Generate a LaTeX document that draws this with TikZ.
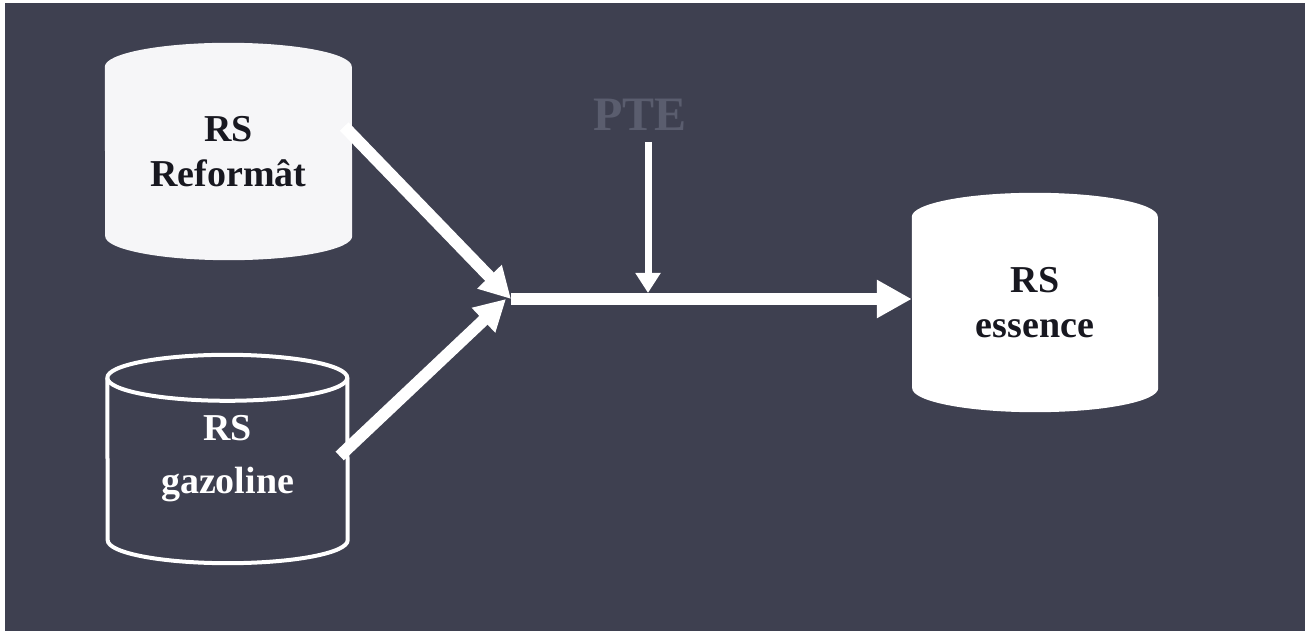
\documentclass[tikz,border=0pt]{standalone}
\usepackage{fontspec}
\setmainfont{Liberation Serif}
\usetikzlibrary{arrows.meta,backgrounds,calc}

\definecolor{slate}{RGB}{62,64,80}
\definecolor{ghost}{RGB}{90,93,110}
\definecolor{ink}{RGB}{24,24,32}
\definecolor{paper}{RGB}{246,246,248}

% silhouette of a storage tank drawn round a node: node, x radius, y radius, options
\newcommand\tankshape[4]{%
  \path[#4] ([yshift=-#3]#1.north west)
    arc[start angle=180,end angle=0,x radius=#2,y radius=#3]
    -- ([yshift=#3]#1.south east)
    arc[start angle=0,end angle=-180,x radius=#2,y radius=#3] -- cycle;}
% front half of the tank's top rim
\newcommand\tankrim[4]{%
  \path[#4] ([yshift=-#3]#1.north west)
    arc[start angle=180,end angle=360,x radius=#2,y radius=#3];}

\tikzset{
  tank/.style={rectangle,inner sep=0pt,align=center,
    font=\bfseries\fontsize{38}{45}\selectfont},
  flow/.style={draw=white,line width=12pt},
  feed/.style={draw=white,line width=7pt,-{Triangle[length=20pt,width=24pt]}},
}

\begin{document}
\begin{tikzpicture}[x=1pt,y=1pt]
\useasboundingbox (0,0) rectangle (1312,635);

% tanks
\node[tank,text=ink,minimum width=247pt,minimum height=217pt] (ref) at (228.5,483.5) {RS\\Reformât};
\node[tank,text=white,minimum width=240pt,minimum height=208pt] (gaz) at (227.5,176) {RS\\[8pt]gazoline};
\node[tank,text=ink,minimum width=246pt,minimum height=219pt] (ess) at (1035,332.5) {RS\\essence};

% additive label
\node[inner sep=0pt,text=ghost,font=\bfseries\fontsize{48}{48}\selectfont] (pte) at (640,520) {PTE};

\begin{scope}[on background layer]
  \fill[white] (0,0) rectangle (1312,635);
  \fill[slate] (5,4) rectangle (1305,632);
  \tankshape{ref}{123.5pt}{24pt}{fill=paper}
  \tankshape{ess}{123pt}{24pt}{fill=white}
  \tankshape{gaz}{120pt}{23pt}{draw=white,line width=4pt}
  \tankrim{gaz}{120pt}{23pt}{draw=white,line width=4pt}
\end{scope}

% blending point and flows
\coordinate (J) at (511,336);
\coordinate (drop) at (648,342);
\draw[flow,-{Triangle[length=31pt,width=32pt]}] ([xshift=-8pt,yshift=25pt]ref.east) -- (J);
\draw[flow,-{Triangle[length=31pt,width=32pt]}] ([xshift=-8pt,yshift=3pt]gaz.east) -- ([xshift=-5pt]J);
\draw[flow,-{Triangle[length=35pt,width=36pt]}] (J) -- (J -| ess.west);
\draw[feed] ($(pte.south -| drop)+(0,-11)$) -- (drop);
\end{tikzpicture}
\end{document}
